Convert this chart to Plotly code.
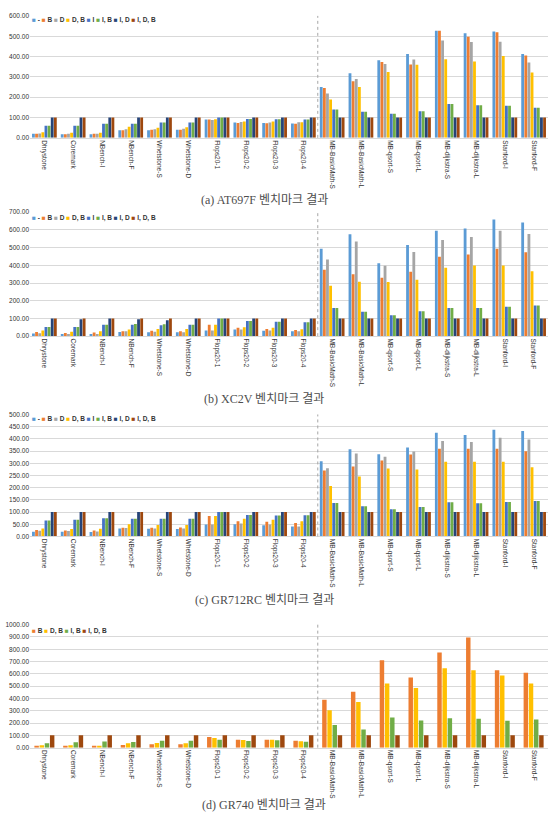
import plotly.graph_objects as go

W, H = 553, 824

CATEGORIES = ["Dhrystone", "Coremark", "NBench-I", "NBench-F", "Whetstone-S", "Whetstone-D",
              "Flops20-1", "Flops20-2", "Flops20-3", "Flops20-4", "MB-BasicMath-S", "MB-BasicMath-L",
              "MB-qsort-S", "MB-qsort-L", "MB-dijkstra-S", "MB-dijkstra-L", "Stanford-I", "Stanford-F"]

SERIES_COLORS = {"-": "#5B9BD5", "B": "#ED7D31", "D": "#A5A5A5", "D, B": "#FFC000",
                 "I": "#4472C4", "I, B": "#70AD47", "I, D": "#264478", "I, D, B": "#9E480E"}

# (a) AT697F
AT697F_NONE = [20, 18, 18, 38, 38, 40, 90, 75, 73, 71, 250, 318, 382, 413, 527, 515, 523, 413]
AT697F_B = [20, 18, 20, 38, 40, 40, 90, 73, 72, 69, 245, 279, 373, 361, 527, 497, 519, 405]
AT697F_D = [22, 20, 20, 42, 42, 45, 88, 78, 76, 77, 218, 290, 363, 385, 479, 471, 473, 371]
AT697F_DB = [28, 25, 25, 55, 50, 52, 92, 80, 80, 77, 189, 250, 324, 360, 387, 376, 403, 321]
AT697F_I = [60, 60, 70, 70, 75, 75, 100, 93, 92, 90, 139, 129, 119, 131, 166, 160, 158, 148]
AT697F_IB = [60, 60, 70, 70, 75, 75, 100, 93, 92, 90, 139, 129, 119, 131, 166, 160, 158, 148]
AT697F_ID = [100] * 18
AT697F_IDB = [100] * 18

# (b) XC2V
XC2V_NONE = [15, 12, 12, 24, 22, 22, 32, 38, 30, 28, 494, 575, 412, 515, 595, 608, 659, 642]
XC2V_B = [24, 18, 20, 28, 30, 28, 65, 48, 40, 35, 375, 349, 330, 364, 448, 461, 493, 474]
XC2V_D = [17, 12, 12, 28, 25, 22, 32, 38, 32, 28, 433, 534, 397, 476, 543, 560, 595, 577]
XC2V_DB = [32, 25, 28, 38, 40, 40, 65, 50, 47, 39, 284, 308, 306, 319, 386, 399, 399, 366]
XC2V_I = [52, 52, 65, 65, 62, 65, 100, 85, 82, 78, 159, 138, 118, 140, 159, 159, 166, 173]
XC2V_IB = [52, 52, 65, 68, 67, 65, 100, 85, 82, 78, 159, 138, 118, 140, 159, 159, 166, 173]
XC2V_ID = [100, 95, 100, 95, 90, 100, 100, 100, 100, 100, 100, 100, 100, 100, 100, 100, 100, 100]
XC2V_IDB = [100] * 18

# (c) GR712RC
GR712RC_NONE = [19, 19, 18, 33, 32, 30, 49, 50, 46, 41, 308, 357, 337, 365, 425, 416, 437, 432]
GR712RC_B = [26, 24, 24, 36, 36, 37, 84, 62, 60, 55, 270, 287, 311, 336, 360, 360, 360, 349]
GR712RC_D = [23, 22, 20, 35, 33, 33, 49, 53, 49, 41, 280, 340, 327, 348, 391, 387, 405, 397]
GR712RC_DB = [33, 30, 32, 50, 47, 47, 84, 72, 68, 62, 207, 246, 279, 274, 306, 306, 306, 284]
GR712RC_I = [65, 68, 75, 72, 73, 73, 100, 88, 86, 87, 137, 124, 111, 121, 140, 136, 141, 145]
GR712RC_IB = [65, 68, 75, 72, 73, 73, 100, 88, 86, 87, 137, 124, 111, 121, 140, 136, 141, 145]
GR712RC_ID = [100] * 18
GR712RC_IDB = [100] * 18

# (d) GR740
GR740_B = [13, 13, 14, 22, 27, 27, 86, 65, 65, 56, 390, 454, 710, 570, 774, 895, 629, 610]
GR740_DB = [19, 19, 16, 35, 38, 35, 78, 62, 65, 51, 304, 371, 521, 484, 645, 629, 586, 521]
GR740_IB = [35, 43, 50, 46, 56, 56, 65, 54, 59, 48, 185, 148, 245, 220, 239, 234, 218, 228]
GR740_IDB = [100] * 18

charts = [
    dict(caption="(a) AT697F 벤치마크 결과", ymax=600, dtick=100, top=12, bottom=135, leg=16, cap=198,
         series=[("-", AT697F_NONE), ("B", AT697F_B), ("D", AT697F_D), ("D, B", AT697F_DB),
                 ("I", AT697F_I), ("I, B", AT697F_IB), ("I, D", AT697F_ID), ("I, D, B", AT697F_IDB)]),
    dict(caption="(b) XC2V 벤치마크 결과", ymax=700, dtick=100, top=210, bottom=335, leg=216, cap=398,
         series=[("-", XC2V_NONE), ("B", XC2V_B), ("D", XC2V_D), ("D, B", XC2V_DB),
                 ("I", XC2V_I), ("I, B", XC2V_IB), ("I, D", XC2V_ID), ("I, D, B", XC2V_IDB)]),
    dict(caption="(c) GR712RC 벤치마크 결과", ymax=500, dtick=50, top=414, bottom=537, leg=419, cap=601,
         series=[("-", GR712RC_NONE), ("B", GR712RC_B), ("D", GR712RC_D), ("D, B", GR712RC_DB),
                 ("I", GR712RC_I), ("I, B", GR712RC_IB), ("I, D", GR712RC_ID), ("I, D, B", GR712RC_IDB)]),
    dict(caption="(d) GR740 벤치마크 결과", ymax=1000, dtick=100, top=626, bottom=750, leg=632, cap=808,
         series=[("B", GR740_B), ("D, B", GR740_DB), ("I, B", GR740_IB), ("I, D, B", GR740_IDB)]),
]

X0, X1 = 30 / W, 548 / W
TICK_FONT = dict(family="Liberation Sans, Arial, sans-serif", size=6.5, color="#333333")

fig = go.Figure()
annotations = []
shapes = []
layout_axes = {}

for k, ch in enumerate(charts):
    sfx = "" if k == 0 else str(k + 1)
    xa, ya = "x" + sfx, "y" + sfx
    n = len(ch["series"])
    for i, (name, vals) in enumerate(ch["series"]):
        kw = {}
        if n == 4:
            step = 0.18
            kw = dict(width=step * 0.86, offset=-n * step / 2 + i * step + step * 0.07)
        fig.add_trace(go.Bar(x=CATEGORIES, y=vals, name=name, xaxis=xa, yaxis=ya,
                             marker=dict(color=SERIES_COLORS[name], line=dict(width=0)),
                             showlegend=False, **kw))
    d0, d1 = 1 - ch["bottom"] / H, 1 - ch["top"] / H
    layout_axes["xaxis" + sfx] = dict(domain=[X0, X1], anchor=ya, type="category",
                                      tickangle=90, tickfont=TICK_FONT, showgrid=False,
                                      showline=True, linecolor="#D9D9D9", linewidth=1,
                                      ticks="", fixedrange=True)
    layout_axes["yaxis" + sfx] = dict(domain=[d0, d1], anchor=xa, range=[0, ch["ymax"]],
                                      dtick=ch["dtick"], tickformat=".2f", tickfont=TICK_FONT,
                                      showgrid=True, gridcolor="#D9D9D9", gridwidth=1,
                                      zeroline=False, showline=False, ticks="", fixedrange=True)
    # separator between groups of benchmarks
    shapes.append(dict(type="line", xref=xa, yref=ya + " domain", x0=9.5, x1=9.5, y0=0, y1=1,
                       line=dict(color="#A6A6A6", width=1, dash="dot")))
    # legend
    parts = []
    for name, _ in ch["series"]:
        parts.append(f"<span style='color:{SERIES_COLORS[name]}'>■</span> {name}")
    annotations.append(dict(text=" ".join(parts), xref="paper", yref="paper",
                            x=X0, y=1 - ch["leg"] / H, xanchor="left", yanchor="middle",
                            showarrow=False,
                            font=dict(family="Liberation Sans, Arial, sans-serif", size=6.5,
                                      color="#333333", weight="bold")))
    # caption
    annotations.append(dict(text=ch["caption"], xref="paper", yref="paper",
                            x=264 / W, y=1 - ch["cap"] / H, xanchor="center", yanchor="middle",
                            showarrow=False,
                            font=dict(family="Liberation Serif, Noto Sans CJK KR, serif", size=12,
                                      color="#4d4d4d")))

fig.update_layout(width=W, height=H, margin=dict(l=0, r=0, t=0, b=0),
                  paper_bgcolor="white", plot_bgcolor="white",
                  barmode="group", bargap=0.13, bargroupgap=0.1,
                  annotations=annotations, shapes=shapes, **layout_axes)

fig.write_html("out.html")
